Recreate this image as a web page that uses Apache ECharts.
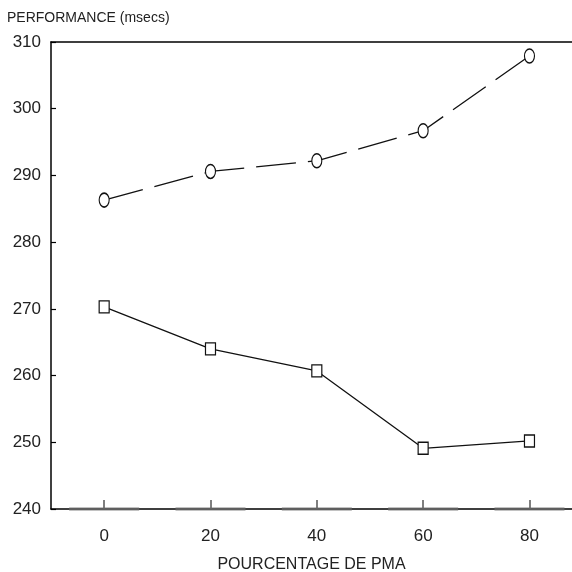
<!DOCTYPE html>
<html>
<head>
<meta charset="utf-8">
<script src="https://cdn.jsdelivr.net/npm/echarts@6/dist/echarts.min.js"></script>
<style>html,body{margin:0;padding:0;background:#fff}#c{width:572px;height:572px}</style>
</head>
<body>
<div id="c"></div>
<script>
var xValues = [0, 20, 40, 60, 80];
var circleSeries = [286.3, 290.6, 292.2, 296.7, 307.9];
var squareSeries = [270.3, 264.0, 260.7, 249.1, 250.2];
var yTicks = [240, 250, 260, 270, 280, 290, 300, 310];
var yTitle = 'PERFORMANCE (msecs)';
var xTitle = 'POURCENTAGE DE PMA';

var FONT = '"Liberation Sans", Arial, sans-serif';
var TXT = '#222';
function pairs(vals) { return xValues.map(function (x, i) { return [x, vals[i]]; }); }

var chart = echarts.init(document.getElementById('c'), null, { renderer: 'canvas' });
chart.setOption({
  animation: false,
  backgroundColor: '#fff',
  title: {
    text: yTitle, left: 2, top: 6,
    textStyle: { fontFamily: FONT, fontSize: 14, fontWeight: 'normal', color: TXT }
  },
  grid: { left: 51, right: 0, top: 42, bottom: 63, containLabel: false, outerBoundsMode: 'none' },
  xAxis: [{
    type: 'value', min: -10, max: 88, interval: 10,
    axisLine: { show: true, onZero: false, lineStyle: { color: '#000', width: 1.5 } },
    axisTick: { show: true, inside: true, length: 9, customValues: xValues, lineStyle: { color: '#555', width: 1.5 } },
    axisLabel: {
      margin: 19, fontFamily: FONT, fontSize: 17, color: TXT, customValues: xValues
    },
    splitLine: { show: false },
    name: xTitle, nameLocation: 'middle', nameGap: 48,
    nameTextStyle: { fontFamily: FONT, fontSize: 16, color: TXT }
  }, {
    type: 'value', position: 'top', min: -10, max: 88,
    axisLine: { show: true, onZero: false, lineStyle: { color: '#000', width: 1.5 } },
    axisTick: { show: false }, axisLabel: { show: false }, splitLine: { show: false }
  }],
  yAxis: {
    type: 'value', min: yTicks[0], max: yTicks[yTicks.length - 1], interval: 10,
    axisLine: { show: true, onZero: false, lineStyle: { color: '#000', width: 1.5 } },
    axisTick: { show: true, inside: true, length: 5, lineStyle: { color: '#000', width: 1.2 } },
    axisLabel: { margin: 10, fontFamily: FONT, fontSize: 17, color: TXT },
    splitLine: { show: false }
  },
  series: [{
    type: 'scatter', silent: true,
    data: xValues.map(function (x) { return [x, yTicks[0]]; }),
    symbol: 'rect', symbolSize: [70, 3],
    itemStyle: { color: '#666' }, z: 10
  }, {
    type: 'line', data: pairs(circleSeries),
    symbol: 'circle', symbolSize: [10, 14], showSymbol: true,
    itemStyle: { color: '#fff', borderColor: '#111', borderWidth: 1.3 },
    lineStyle: { color: '#111', width: 1.3, type: [40, 12] }, z: 3
  }, {
    type: 'line', data: pairs(squareSeries),
    symbol: 'rect', symbolSize: [10, 12], showSymbol: true,
    itemStyle: { color: '#fff', borderColor: '#111', borderWidth: 1.3 },
    lineStyle: { color: '#111', width: 1.3 }, z: 3
  }]
});
</script>
</body>
</html>
